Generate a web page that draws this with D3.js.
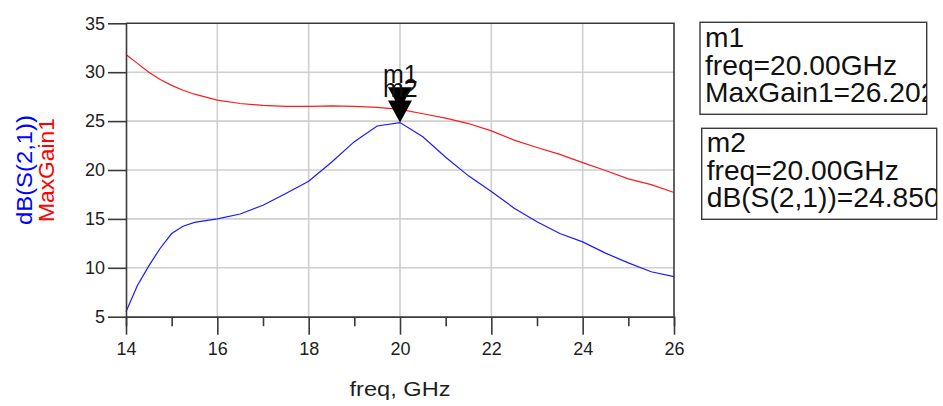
<!DOCTYPE html>
<html>
<head>
<meta charset="utf-8">
<script src="https://cdn.jsdelivr.net/npm/d3@7"></script>
<style>
  html, body { margin: 0; padding: 0; background: #fff; }
  svg { display: block; font-family: "Liberation Sans", Arial, sans-serif; }
</style>
</head>
<body>
<svg id="chart" width="943" height="406"></svg>
<script>
// Sweep frequencies (GHz) and the two traces
const freq = [14, 14.25, 14.5, 14.75, 15, 15.25, 15.5, 16, 16.5, 17, 17.5, 18, 18.5, 19, 19.5, 20,
              20.5, 21, 21.5, 22, 22.5, 23, 23.5, 24, 24.5, 25, 25.5, 26];
const dbS21 = [5.5, 8.2, 10.2, 12.0, 13.5, 14.25, 14.65, 15.0, 15.5, 16.4, 17.6, 18.85, 20.8, 22.9, 24.5, 24.85,
               23.4, 21.3, 19.4, 17.8, 16.1, 14.7, 13.5, 12.65, 11.5, 10.5, 9.6, 9.1];
const maxGain1 = [31.8, 30.9, 30.0, 29.25, 28.65, 28.15, 27.75, 27.15, 26.8, 26.6, 26.5, 26.5, 26.55, 26.5, 26.4, 26.202,
                  25.75, 25.3, 24.75, 24.0, 23.05, 22.3, 21.6, 20.75, 19.95, 19.1, 18.5, 17.7];

// Axis ticks
const xMajorTicks = [14, 16, 18, 20, 22, 24, 26];
const xMinorTicks = [15, 17, 19, 21, 23, 25];
const yTicks = [5, 10, 15, 20, 25, 30, 35];

// Markers
const markers = [
  { name: "m1", freq: 20.00, value: 26.202, label: "MaxGain1", fmt: "26.202" },
  { name: "m2", freq: 20.00, value: 24.850, label: "dB(S(2,1))", fmt: "24.850" }
];

const svg = d3.select("#chart");
const x = d3.scaleLinear().domain([14, 26]).range([126, 674]);
const y = d3.scaleLinear().domain([5, 35]).range([316.7, 23.3]);

const frameColor = "#3a3a3a";
const gridColor = "#cfcfcf";

// Grid
const grid = svg.append("g");
grid.selectAll("line.h").data(yTicks.slice(1, -1)).join("line")
  .attr("x1", x(14)).attr("x2", x(26))
  .attr("y1", d => y(d)).attr("y2", d => y(d))
  .attr("stroke", gridColor).attr("stroke-width", 1.6);
grid.selectAll("line.v").data(xMajorTicks.slice(1, -1)).join("line")
  .attr("y1", y(5)).attr("y2", y(35))
  .attr("x1", d => x(d)).attr("x2", d => x(d))
  .attr("stroke", gridColor).attr("stroke-width", 1.6);

// Traces
const line = (vals) => d3.line().x((d, i) => x(freq[i])).y(d => y(d))(vals);
svg.append("path").attr("d", line(maxGain1))
  .attr("fill", "none").attr("stroke", "#ff1a1a").attr("stroke-width", 1.2);
svg.append("path").attr("d", line(dbS21))
  .attr("fill", "none").attr("stroke", "#1a1aff").attr("stroke-width", 1.2);

// Frame: top and right border
svg.append("path")
  .attr("d", `M${x(14)},${y(35)}H${x(26)}V${y(5)}`)
  .attr("fill", "none").attr("stroke", frameColor).attr("stroke-width", 1.6);

// Axes
function styleAxis(g) {
  g.select(".domain").attr("stroke", frameColor).attr("stroke-width", 1.6);
  g.selectAll(".tick line").attr("stroke", frameColor).attr("stroke-width", 1.6);
  g.selectAll(".tick text").attr("fill", "#1e1e1e").attr("font-size", 18)
    .attr("font-family", "'Liberation Sans', Arial, sans-serif");
}
svg.append("g").attr("transform", `translate(0,${y(5)})`)
  .call(d3.axisBottom(x).tickValues(xMinorTicks).tickSize(9.5).tickFormat(""))
  .call(styleAxis);
svg.append("g").attr("transform", `translate(0,${y(5)})`)
  .call(d3.axisBottom(x).tickValues(xMajorTicks).tickSize(18).tickPadding(8).tickFormat(d3.format("d")).tickSizeOuter(0))
  .call(styleAxis);
svg.append("g").attr("transform", `translate(${x(14)},0)`)
  .call(d3.axisLeft(y).tickValues(yTicks).tickSize(18).tickPadding(3).tickFormat(d3.format("d")).tickSizeOuter(0))
  .call(styleAxis);

// Axis titles
svg.append("text").attr("x", 400).attr("y", 396).attr("text-anchor", "middle")
  .attr("font-size", 21).attr("fill", "#1e1e1e")
  .attr("textLength", 101).attr("lengthAdjust", "spacingAndGlyphs")
  .text("freq, GHz");
svg.append("text").attr("transform", "translate(31.5,170) rotate(-90)")
  .attr("text-anchor", "middle").attr("font-size", 21.5).attr("fill", "#0000ff")
  .attr("textLength", 110).attr("lengthAdjust", "spacingAndGlyphs")
  .text("dB(S(2,1))");
svg.append("text").attr("transform", "translate(54,170) rotate(-90)")
  .attr("text-anchor", "middle").attr("font-size", 21.5).attr("fill", "#ff0000")
  .attr("textLength", 104).attr("lengthAdjust", "spacingAndGlyphs")
  .text("MaxGain1");

// Marker arrows and names
const mk = svg.append("g");
markers.forEach(m => {
  const tx = x(m.freq), ty = y(m.value);
  mk.append("path")
    .attr("d", `M${tx},${ty}L${tx - 12},${ty - 22}L${tx + 12},${ty - 22}Z`)
    .attr("fill", "#000");
  mk.append("text").attr("x", tx - 17).attr("y", ty - 26)
    .attr("font-size", 25).attr("fill", "#111").text(m.name);
});

// Marker readout boxes
const boxes = [
  { x: 700, y: 22.3, w: 226.7, h: 92, tx: 705, lines: [46.7, 75, 102] },
  { x: 701.7, y: 128.3, w: 235, h: 91, tx: 706.7, lines: [151.7, 180, 207] }
];
const defs = svg.append("defs");
markers.forEach((m, i) => {
  const b = boxes[i];
  defs.append("clipPath").attr("id", "clip" + i)
    .append("rect").attr("x", b.x).attr("y", b.y).attr("width", b.w).attr("height", b.h);
  const g = svg.append("g");
  g.append("rect").attr("x", b.x).attr("y", b.y).attr("width", b.w).attr("height", b.h)
    .attr("fill", "#fff").attr("stroke", frameColor).attr("stroke-width", 1.4);
  const tg = g.append("g").attr("clip-path", `url(#clip${i})`);
  const texts = [m.name, "freq=" + m.freq.toFixed(2) + "GHz", m.label + "=" + m.fmt];
  texts.forEach((t, j) => {
    tg.append("text")
      .attr("transform", `translate(${b.tx},${b.lines[j]}) scale(1.045,1)`)
      .attr("font-size", 27).attr("fill", "#111").text(t);
  });
});
</script>
</body>
</html>
